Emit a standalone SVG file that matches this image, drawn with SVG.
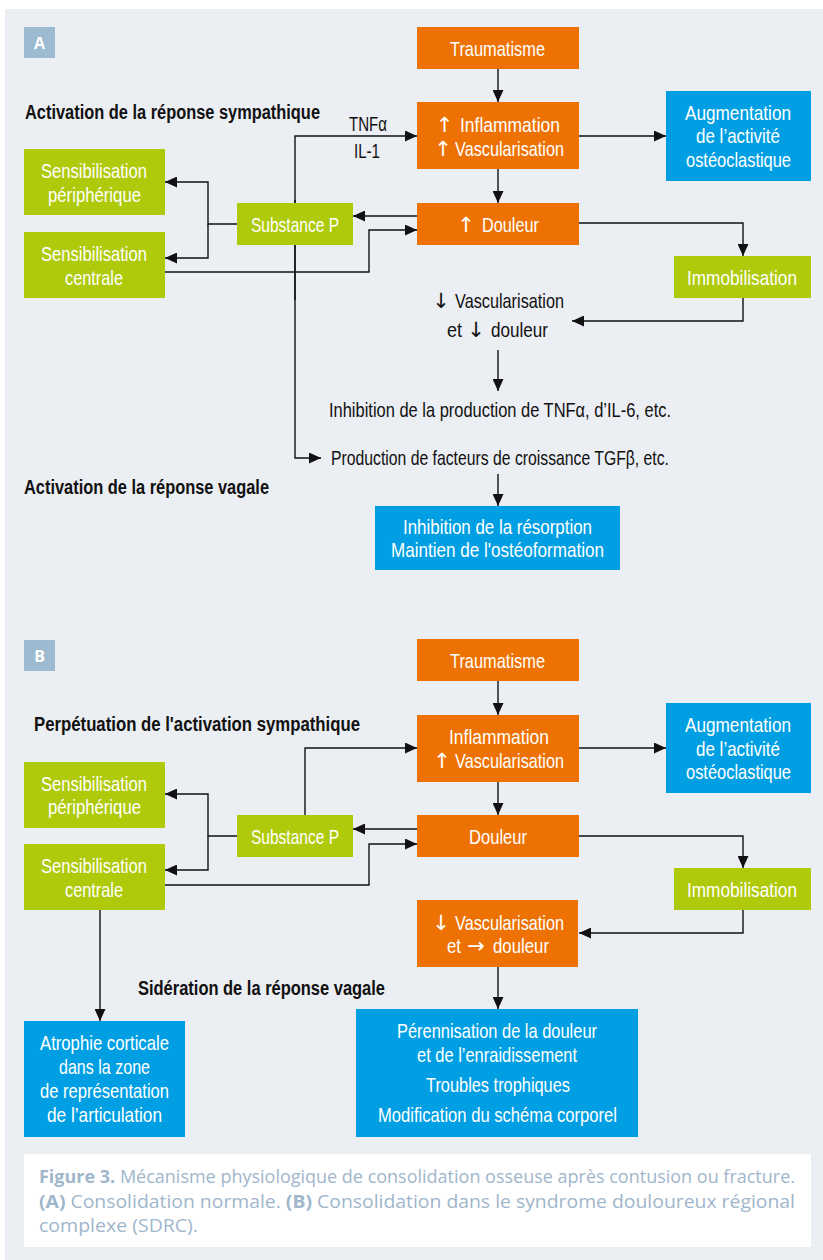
<svg xmlns="http://www.w3.org/2000/svg" width="823" height="1260" viewBox="0 0 823 1260">
<style>
.bg{fill:#EBEEF3}
.or{fill:#EE7203}
.gr{fill:#AFCA0B}
.bl{fill:#009FE3}
.lab{fill:#9CBAD0}
.t{font-family:"Liberation Sans Narrow","Liberation Sans",Arial,sans-serif;font-size:21px;fill:#fff}
.k{font-family:"Liberation Sans Narrow","Liberation Sans",Arial,sans-serif;font-size:21px;fill:#111}
.h{font-family:"Liberation Sans Narrow","Liberation Sans",Arial,sans-serif;font-size:20px;font-weight:bold;fill:#111}
.aw{font-family:"DejaVu Sans",sans-serif;font-size:21px;fill:#fff;text-anchor:middle}
.ak{font-family:"DejaVu Sans",sans-serif;font-size:21px;fill:#111;text-anchor:middle}
.lt{font-family:"Open Sans","Liberation Sans",Arial,sans-serif;font-size:16px;font-weight:bold;fill:#fff}
.cap{font-family:"Open Sans","Liberation Sans",Arial,sans-serif;font-size:18px;fill:#9FB6CB}
.c path{fill:none;stroke:#111;stroke-width:1.4}
.a{marker-end:url(#ah)}
</style>
<defs>
<marker id="ah" markerWidth="12" markerHeight="11" refX="12" refY="5.5" orient="auto" markerUnits="userSpaceOnUse"><path d="M0,0 L12,5.5 L0,11 z" fill="#111"/></marker>
</defs>
<rect x="0" y="0" width="823" height="1260" fill="#fff"/>
<rect class="bg" x="5" y="9" width="818" height="1251"/>

<g id="connectors" class="c">
<!-- Panel A -->
<path class="a" d="M498,69 V102"/>
<path class="a" d="M498,169 V203"/>
<path class="a" d="M579,136 H666"/>
<path class="a" d="M579,223 H743 V256"/>
<path class="a" d="M743,298 V321 H572"/>
<path class="a" d="M498,350 V391"/>
<path class="a" d="M498,474 V506"/>
<path class="a" d="M417,216 H353"/>
<path class="a" d="M237,224 H208 V182 H165"/>
<path class="a" d="M208,224 V258 H165"/>
<path class="a" d="M165,272 H369 V230 H417"/>
<path class="a" d="M295,300 V136 H417"/>
<path class="a" d="M295,200 V458 H321"/>
<!-- Panel B -->
<path class="a" d="M498,681 V715"/>
<path class="a" d="M498,782 V815"/>
<path class="a" d="M579,748 H666"/>
<path class="a" d="M579,836 H743 V868"/>
<path class="a" d="M743,910 V933 H579"/>
<path class="a" d="M498,967 V1009"/>
<path class="a" d="M417,829 H353"/>
<path class="a" d="M237,836 H208 V794 H165"/>
<path class="a" d="M208,836 V870 H165"/>
<path class="a" d="M165,885 H369 V844 H417"/>
<path class="a" d="M305,815 V748 H417"/>
<path class="a" d="M100,910 V1021"/>
</g>

<!-- Panel A -->
<g id="labelA"><rect class="lab" x="24" y="27" width="31" height="31"/><text class="lt" x="39.5" y="48.5" text-anchor="middle">A</text></g>
<g id="headA1"><text class="h" x="25" y="119" textLength="295" lengthAdjust="spacingAndGlyphs">Activation de la réponse sympathique</text></g>
<g id="headA2"><text class="h" x="24" y="494" textLength="245" lengthAdjust="spacingAndGlyphs">Activation de la réponse vagale</text></g>
<g id="A_traumatisme"><rect class="or" x="417" y="27" width="162" height="42"/><text class="t" x="450" y="56" textLength="95" lengthAdjust="spacingAndGlyphs">Traumatisme</text></g>
<g id="A_inflammation"><rect class="or" x="417" y="102" width="162" height="67"/>
<text class="aw" x="444.5" y="131.5">↑</text><text class="t" x="460" y="131.5" textLength="100" lengthAdjust="spacingAndGlyphs">Inflammation</text>
<text class="aw" x="443" y="155.5">↑</text><text class="t" x="455" y="155.5" textLength="109" lengthAdjust="spacingAndGlyphs">Vascularisation</text></g>
<g id="A_douleur"><rect class="or" x="417" y="203" width="162" height="42"/><text class="aw" x="466" y="232">↑</text><text class="t" x="482" y="232" textLength="57" lengthAdjust="spacingAndGlyphs">Douleur</text></g>
<g id="A_augmentation"><rect class="bl" x="666" y="91" width="145" height="90"/><text class="t" x="685" y="120" textLength="106" lengthAdjust="spacingAndGlyphs">Augmentation</text><text class="t" x="696" y="143" textLength="84" lengthAdjust="spacingAndGlyphs">de l’activité</text><text class="t" x="686" y="167" textLength="105" lengthAdjust="spacingAndGlyphs">ostéoclastique</text></g>
<g id="A_immobilisation"><rect class="gr" x="674" y="256" width="137" height="42"/><text class="t" x="687" y="285" textLength="110" lengthAdjust="spacingAndGlyphs">Immobilisation</text></g>
<g id="A_sensper"><rect class="gr" x="24" y="149" width="141" height="66"/><text class="t" x="41" y="178" textLength="106" lengthAdjust="spacingAndGlyphs">Sensibilisation</text><text class="t" x="48" y="202" textLength="93" lengthAdjust="spacingAndGlyphs">périphérique</text></g>
<g id="A_senscen"><rect class="gr" x="24" y="232" width="141" height="66"/><text class="t" x="41" y="261" textLength="106" lengthAdjust="spacingAndGlyphs">Sensibilisation</text><text class="t" x="65" y="285" textLength="58" lengthAdjust="spacingAndGlyphs">centrale</text></g>
<g id="A_substanceP"><rect class="gr" x="237" y="203" width="116" height="42"/><text class="t" x="251" y="232" textLength="88" lengthAdjust="spacingAndGlyphs">Substance P</text></g>
<g id="A_tnf"><text class="k" x="349" y="131" textLength="38" lengthAdjust="spacingAndGlyphs">TNFα</text><text class="k" x="354" y="158" textLength="26" lengthAdjust="spacingAndGlyphs">IL-1</text></g>
<g id="A_vascdown">
<text class="ak" x="441" y="308">↓</text><text class="k" x="455" y="308" textLength="109" lengthAdjust="spacingAndGlyphs">Vascularisation</text>
<text class="k" x="447" y="337" textLength="15" lengthAdjust="spacingAndGlyphs">et</text><text class="ak" x="476" y="337">↓</text><text class="k" x="491" y="337" textLength="57" lengthAdjust="spacingAndGlyphs">douleur</text></g>
<g id="A_inhibTNF"><text class="k" x="329" y="417" textLength="342" lengthAdjust="spacingAndGlyphs">Inhibition de la production de TNFα, d’IL-6, etc.</text></g>
<g id="A_production"><text class="k" x="331" y="465" textLength="338" lengthAdjust="spacingAndGlyphs">Production de facteurs de croissance TGFβ, etc.</text></g>
<g id="A_inhibres"><rect class="bl" x="375" y="506" width="245" height="64"/><text class="t" x="403" y="534" textLength="189" lengthAdjust="spacingAndGlyphs">Inhibition de la résorption</text><text class="t" x="391" y="557" textLength="213" lengthAdjust="spacingAndGlyphs">Maintien de l'ostéoformation</text></g>

<!-- Panel B -->
<g id="labelB"><rect class="lab" x="24" y="640" width="31" height="31"/><text class="lt" x="39.5" y="661.5" text-anchor="middle">B</text></g>
<g id="headB1"><text class="h" x="34" y="731" textLength="326" lengthAdjust="spacingAndGlyphs">Perpétuation de l'activation sympathique</text></g>
<g id="headB2"><text class="h" x="138" y="995" textLength="247" lengthAdjust="spacingAndGlyphs">Sidération de la réponse vagale</text></g>
<g id="B_traumatisme"><rect class="or" x="417" y="639" width="162" height="42"/><text class="t" x="450" y="668" textLength="95" lengthAdjust="spacingAndGlyphs">Traumatisme</text></g>
<g id="B_inflammation"><rect class="or" x="417" y="715" width="162" height="67"/><text class="t" x="449" y="744" textLength="100" lengthAdjust="spacingAndGlyphs">Inflammation</text>
<text class="aw" x="442" y="768">↑</text><text class="t" x="455" y="768" textLength="109" lengthAdjust="spacingAndGlyphs">Vascularisation</text></g>
<g id="B_douleur"><rect class="or" x="417" y="815" width="162" height="42"/><text class="t" x="469" y="844" textLength="58" lengthAdjust="spacingAndGlyphs">Douleur</text></g>
<g id="B_augmentation"><rect class="bl" x="666" y="703" width="145" height="90"/><text class="t" x="685" y="732" textLength="106" lengthAdjust="spacingAndGlyphs">Augmentation</text><text class="t" x="696" y="756" textLength="84" lengthAdjust="spacingAndGlyphs">de l’activité</text><text class="t" x="686" y="779" textLength="105" lengthAdjust="spacingAndGlyphs">ostéoclastique</text></g>
<g id="B_immobilisation"><rect class="gr" x="674" y="868" width="137" height="42"/><text class="t" x="687" y="897" textLength="110" lengthAdjust="spacingAndGlyphs">Immobilisation</text></g>
<g id="B_vascdown"><rect class="or" x="417" y="900" width="161" height="67"/>
<text class="aw" x="441" y="930">↓</text><text class="t" x="455" y="930" textLength="109" lengthAdjust="spacingAndGlyphs">Vascularisation</text>
<text class="t" x="447" y="953" textLength="14" lengthAdjust="spacingAndGlyphs">et</text><text class="aw" x="476" y="953">→</text><text class="t" x="493" y="953" textLength="56" lengthAdjust="spacingAndGlyphs">douleur</text></g>
<g id="B_sensper"><rect class="gr" x="24" y="762" width="141" height="66"/><text class="t" x="41" y="791" textLength="106" lengthAdjust="spacingAndGlyphs">Sensibilisation</text><text class="t" x="48" y="814" textLength="93" lengthAdjust="spacingAndGlyphs">périphérique</text></g>
<g id="B_senscen"><rect class="gr" x="24" y="844" width="141" height="66"/><text class="t" x="41" y="873" textLength="106" lengthAdjust="spacingAndGlyphs">Sensibilisation</text><text class="t" x="65" y="897" textLength="58" lengthAdjust="spacingAndGlyphs">centrale</text></g>
<g id="B_substanceP"><rect class="gr" x="237" y="815" width="116" height="42"/><text class="t" x="251" y="844" textLength="88" lengthAdjust="spacingAndGlyphs">Substance P</text></g>
<g id="B_atrophie"><rect class="bl" x="24" y="1021" width="161" height="116"/><text class="t" x="40" y="1050" textLength="129" lengthAdjust="spacingAndGlyphs">Atrophie corticale</text><text class="t" x="59" y="1074" textLength="91" lengthAdjust="spacingAndGlyphs">dans la zone</text><text class="t" x="40" y="1098" textLength="129" lengthAdjust="spacingAndGlyphs">de représentation</text><text class="t" x="47" y="1122" textLength="115" lengthAdjust="spacingAndGlyphs">de l’articulation</text></g>
<g id="B_perennisation"><rect class="bl" x="356" y="1009" width="282" height="128"/><text class="t" x="397" y="1038" textLength="200" lengthAdjust="spacingAndGlyphs">Pérennisation de la douleur</text><text class="t" x="417" y="1062" textLength="160" lengthAdjust="spacingAndGlyphs">et de l’enraidissement</text><text class="t" x="426" y="1092" textLength="144" lengthAdjust="spacingAndGlyphs">Troubles trophiques</text><text class="t" x="378" y="1122" textLength="239" lengthAdjust="spacingAndGlyphs">Modification du schéma corporel</text></g>

<!-- Caption -->
<g id="caption">
<rect x="24" y="1154" width="787" height="93" fill="#fff"/>
<text class="cap" x="39" y="1183" textLength="756" lengthAdjust="spacingAndGlyphs"><tspan font-weight="bold">Figure 3.</tspan> Mécanisme physiologique de consolidation osseuse après contusion ou fracture.</text>
<text class="cap" x="39" y="1208" textLength="756" lengthAdjust="spacingAndGlyphs"><tspan font-weight="bold">(A)</tspan> Consolidation normale. <tspan font-weight="bold">(B)</tspan> Consolidation dans le syndrome douloureux régional</text>
<text class="cap" x="39" y="1232" textLength="159" lengthAdjust="spacingAndGlyphs">complexe (SDRC).</text>
</g>
</svg>
